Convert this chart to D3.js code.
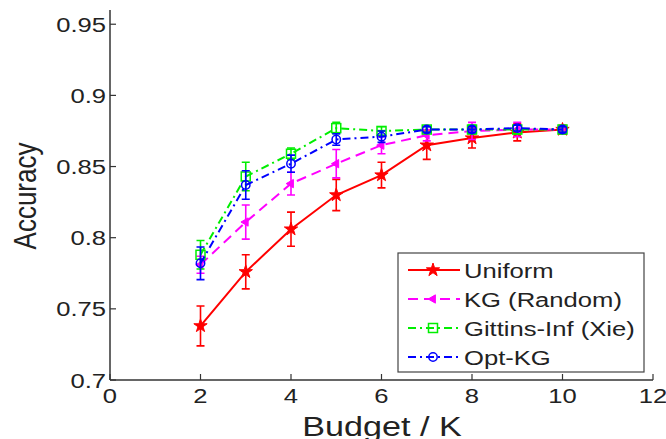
<!DOCTYPE html>
<html>
<head>
<meta charset="utf-8">
<script src="https://cdn.jsdelivr.net/npm/d3@7"></script>
<style>
  html, body { margin: 0; padding: 0; background: #fff; }
  svg { display: block; }
  text { font-family: "Liberation Sans", Arial, sans-serif; fill: #222; }
</style>
</head>
<body>
<div id="chart"></div>
<script>
// values
const budget = [2, 3, 4, 5, 6, 7, 8, 9, 10];
const uniform = [0.738, 0.776, 0.806, 0.830, 0.844, 0.865, 0.870, 0.874, 0.876];
const uniformErr = [0.014, 0.012, 0.012, 0.011, 0.009, 0.010, 0.007, 0.006, 0.003];
const kgRandom = [0.781, 0.811, 0.838, 0.852, 0.865, 0.872, 0.875, 0.876, 0.876];
const kgRandomErr = [0.006, 0.012, 0.008, 0.010, 0.006, 0.004, 0.006, 0.005, 0.002];
const gittins = [0.788, 0.843, 0.859, 0.877, 0.875, 0.876, 0.876, 0.876, 0.876];
const gittinsErr = [0.010, 0.010, 0.004, 0.004, 0.003, 0.002, 0.003, 0.003, 0.002];
const optKG = [0.782, 0.837, 0.852, 0.869, 0.871, 0.876, 0.876, 0.877, 0.876];
const optKGErr = [0.0115, 0.010, 0.006, 0.004, 0.004, 0.002, 0.002, 0.002, 0.002];

const seriesNames = ['Uniform', 'KG  (Random)', 'Gittins-Inf (Xie)', 'Opt-KG'];
const xTicks = [0, 2, 4, 6, 8, 10, 12];
const yTicks = [0.7, 0.75, 0.8, 0.85, 0.9, 0.95];

const width = 666;
const height = 439;
const stretch = 1.22; // the figure text is wider than normal

const series = [
  { name: seriesNames[0], y: uniform, err: uniformErr, color: '#ff0000', dash: null, marker: 'star' },
  { name: seriesNames[1], y: kgRandom, err: kgRandomErr, color: '#ff00ff', dash: '10,6', marker: 'tri' },
  { name: seriesNames[2], y: gittins, err: gittinsErr, color: '#00ee00', dash: '8,4,2,4', marker: 'square' },
  { name: seriesNames[3], y: optKG, err: optKGErr, color: '#0000ff', dash: '8,4,2,4', marker: 'circle' },
];

const svg = d3.select('#chart')
  .append('svg')
  .attr('width', width)
  .attr('height', height);

const xScale = d3.scaleLinear().domain([0, 12]).range([110, 653]);
const yScale = d3.scaleLinear().domain([0.7, 0.96]).range([380, 10]);

function addText(g, x, y, str, size, anchor) {
  return g.append('text')
    .attr('transform', `translate(${x},${y}) scale(${stretch},1)`)
    .attr('text-anchor', anchor)
    .style('font-size', size + 'px')
    .text(str);
}

// axes
const axisColor = '#333';
svg.append('line')
  .attr('x1', xScale(0)).attr('x2', xScale(0))
  .attr('y1', yScale(0.96)).attr('y2', yScale(0.7))
  .attr('stroke', axisColor).attr('stroke-width', 1.5);
svg.append('line')
  .attr('x1', xScale(0)).attr('x2', xScale(12))
  .attr('y1', yScale(0.7)).attr('y2', yScale(0.7))
  .attr('stroke', axisColor).attr('stroke-width', 1.5);

const labels = svg.append('g');

xTicks.forEach(t => {
  svg.append('line')
    .attr('x1', xScale(t)).attr('x2', xScale(t))
    .attr('y1', yScale(0.7)).attr('y2', yScale(0.7) - 6)
    .attr('stroke', axisColor).attr('stroke-width', 1.2);
  addText(labels, xScale(t), 403, String(t), 21, 'middle');
});

yTicks.forEach(t => {
  svg.append('line')
    .attr('x1', xScale(0)).attr('x2', xScale(0) + 6)
    .attr('y1', yScale(t)).attr('y2', yScale(t))
    .attr('stroke', axisColor).attr('stroke-width', 1.2);
  addText(labels, 106, yScale(t) + 7.5, String(t), 21, 'end');
});

addText(labels, 382, 436, 'Budget / K', 28, 'middle');
svg.append('text')
  .attr('transform', `translate(36,196) rotate(-90) scale(1,${stretch})`)
  .attr('text-anchor', 'middle')
  .style('font-size', '26px')
  .text('Accuracy');

// markers
function drawMarker(g, kind, x, y, color) {
  if (kind === 'star') {
    g.append('path')
      .attr('d', d3.symbol(d3.symbolStar, 55)())
      .attr('transform', `translate(${x},${y})`)
      .attr('fill', color).attr('stroke', color).attr('stroke-width', 1);
  } else if (kind === 'tri') {
    g.append('path')
      .attr('d', d3.symbol(d3.symbolTriangle, 30)())
      .attr('transform', `translate(${x},${y}) rotate(-90)`)
      .attr('fill', color).attr('stroke', color).attr('stroke-width', 1);
  } else if (kind === 'square') {
    g.append('rect')
      .attr('x', x - 4.5).attr('y', y - 4.5)
      .attr('width', 9).attr('height', 9)
      .attr('fill', 'none').attr('stroke', color).attr('stroke-width', 1.5);
  } else {
    g.append('circle')
      .attr('cx', x).attr('cy', y).attr('r', 4.2)
      .attr('fill', 'none').attr('stroke', color).attr('stroke-width', 1.5);
  }
}

const line = d3.line()
  .x((d, i) => xScale(budget[i]))
  .y(d => yScale(d));

series.forEach(s => {
  const g = svg.append('g');
  g.append('path')
    .datum(s.y)
    .attr('d', line)
    .attr('fill', 'none')
    .attr('stroke', s.color)
    .attr('stroke-width', 2)
    .attr('stroke-dasharray', s.dash);

  s.y.forEach((v, i) => {
    const x = xScale(budget[i]);
    const top = yScale(v + s.err[i]);
    const bot = yScale(v - s.err[i]);
    g.append('path')
      .attr('d', `M${x},${top}V${bot}M${x - 4},${top}H${x + 4}M${x - 4},${bot}H${x + 4}`)
      .attr('fill', 'none')
      .attr('stroke', s.color)
      .attr('stroke-width', 1.6);
    drawMarker(g, s.marker, x, yScale(v), s.color);
  });
});

// legend
const legend = svg.append('g');
legend.append('rect')
  .attr('x', 398).attr('y', 253)
  .attr('width', 246).attr('height', 119)
  .attr('fill', '#fff')
  .attr('stroke', '#444').attr('stroke-width', 1.2);

series.forEach((s, i) => {
  const ly = 270 + i * 29;
  legend.append('line')
    .attr('x1', 408).attr('x2', 460)
    .attr('y1', ly).attr('y2', ly)
    .attr('stroke', s.color).attr('stroke-width', 2)
    .attr('stroke-dasharray', s.dash);
  drawMarker(legend, s.marker, 433, ly, s.color);
  addText(legend, 464, ly + 7.5, s.name, 21, 'start');
});
</script>
</body>
</html>
